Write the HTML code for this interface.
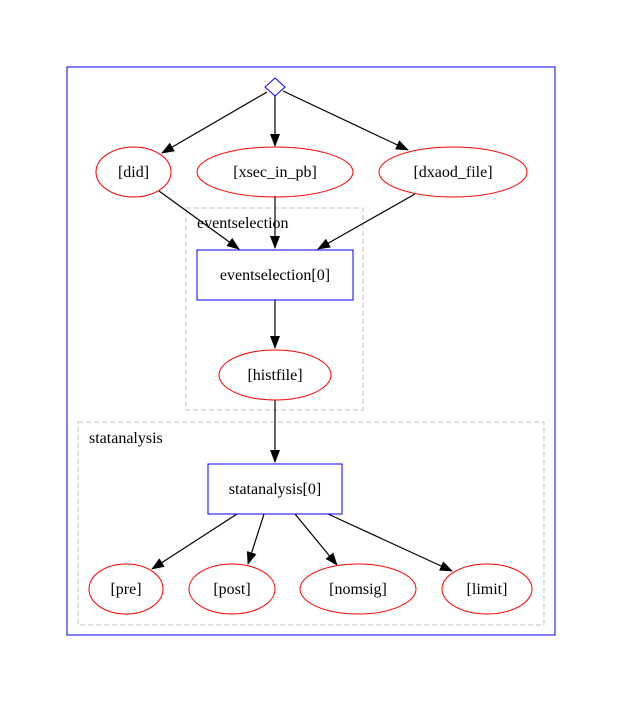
<!DOCTYPE html>
<html><head><meta charset="utf-8"><style>body{margin:0;background:#fff}svg{display:block}</style></head>
<body>
<svg width="622" height="702" viewBox="0 0 622 702" xmlns="http://www.w3.org/2000/svg" font-family="Liberation Serif, serif" font-size="16">
<defs><marker id="a" markerWidth="13" markerHeight="10" refX="12" refY="5" orient="auto" markerUnits="userSpaceOnUse"><path d="M0,0L13,5L0,10z" fill="#000"/></marker></defs>
<rect x="67" y="67" width="488" height="568" fill="none" stroke="#0000ff"/>
<rect x="186" y="208" width="177" height="202" fill="none" stroke="#c0c0c0" stroke-dasharray="5,3"/>
<text x="197" y="228" fill="#000">eventselection</text>
<rect x="78" y="422" width="466" height="203" fill="none" stroke="#c0c0c0" stroke-dasharray="5,3"/>
<text x="89" y="443" fill="#000">statanalysis</text>
<polygon points="275,78 285,87 275,96 265,87" fill="none" stroke="#0000ff"/>
<g stroke="#000" fill="none" stroke-width="1.2" marker-end="url(#a)">
<line x1="267" y1="92" x2="162" y2="153"/>
<line x1="275" y1="96" x2="275" y2="146"/>
<line x1="283" y1="91" x2="408" y2="150"/>
<line x1="159" y1="191" x2="239" y2="249"/>
<line x1="275" y1="196" x2="275" y2="248"/>
<line x1="415" y1="194" x2="318" y2="249"/>
<line x1="275" y1="300" x2="275" y2="348"/>
<line x1="275" y1="400" x2="275" y2="462"/>
<line x1="237" y1="514" x2="152" y2="569"/>
<line x1="264" y1="514" x2="248" y2="564"/>
<line x1="295" y1="514" x2="337" y2="565"/>
<line x1="328" y1="514" x2="452" y2="571"/>
</g>
<g fill="none" stroke="#ff0000">
<ellipse cx="133.5" cy="172" rx="37.5" ry="25"/>
<ellipse cx="275" cy="172" rx="78" ry="25"/>
<ellipse cx="453" cy="172" rx="74" ry="25"/>
<ellipse cx="275" cy="375" rx="56" ry="25"/>
<ellipse cx="126" cy="589" rx="37" ry="25"/>
<ellipse cx="232" cy="589" rx="43" ry="25"/>
<ellipse cx="358" cy="589" rx="58" ry="25"/>
<ellipse cx="487" cy="589" rx="45" ry="25"/>
</g>
<rect x="197" y="250" width="156" height="50" fill="none" stroke="#0000ff"/>
<rect x="208" y="464" width="134" height="50" fill="none" stroke="#0000ff"/>
<g text-anchor="middle" fill="#000">
<text x="133.5" y="177">[did]</text>
<text x="275" y="177">[xsec_in_pb]</text>
<text x="453" y="177">[dxaod_file]</text>
<text x="275" y="280">eventselection[0]</text>
<text x="275" y="380">[histfile]</text>
<text x="275" y="494">statanalysis[0]</text>
<text x="126" y="594">[pre]</text>
<text x="232" y="594">[post]</text>
<text x="358" y="594">[nomsig]</text>
<text x="487" y="594">[limit]</text>
</g>
</svg>
</body></html>
